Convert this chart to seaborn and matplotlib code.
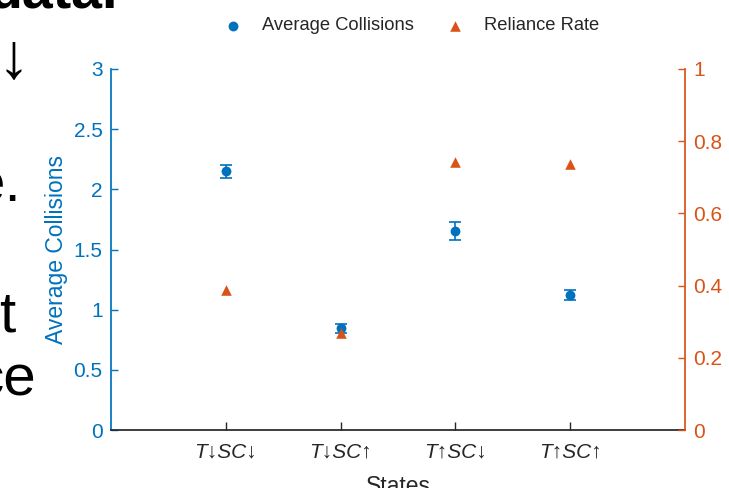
import numpy as np
import pandas as pd
import seaborn as sns
import matplotlib.pyplot as plt

# values
states = ['T↓SC↓', 'T↓SC↑', 'T↑SC↓', 'T↑SC↑']
avg_collisions = [2.15, 0.845, 1.655, 1.12]
collision_err = [0.055, 0.04, 0.075, 0.04]
reliance_rate = [0.388, 0.268, 0.743, 0.737]

blue = '#0072BD'
orange = '#D95319'
dark = '#262626'

sns.set_theme(style="white")
plt.rcParams['font.family'] = ['Liberation Sans', 'DejaVu Sans']

df = pd.DataFrame({
    'pos': np.arange(1, len(states) + 1),
    'State': states,
    'Average Collisions': avg_collisions,
    'err': collision_err,
    'Reliance Rate': reliance_rate,
})

fig = plt.figure(figsize=(7.29, 4.88), dpi=100)
ax = fig.add_axes([111 / 729, 58 / 488, 574 / 729, 361 / 488])
ax2 = ax.twinx()

# error bars then the mean markers
ax.errorbar(df['pos'], df['Average Collisions'], yerr=df['err'], fmt='none',
            ecolor=blue, elinewidth=1.2, capsize=4, capthick=1.2, zorder=2)
sns.scatterplot(data=df, x='pos', y='Average Collisions', ax=ax, color=blue,
                marker='o', s=50, edgecolor=blue, linewidth=0, zorder=3,
                label='Average Collisions', legend=False)
sns.scatterplot(data=df, x='pos', y='Reliance Rate', ax=ax2, color=orange,
                marker='^', s=58, edgecolor=orange, linewidth=0, zorder=3,
                label='Reliance Rate', legend=False)

ax.set_xlim(0, 5)
ax.set_ylim(0, 3)
ax2.set_ylim(0, 1)
ax.set_xticks(df['pos'])
ax.set_xticklabels(states, fontstyle='italic')
ax.set_yticks(np.arange(0, 3.01, 0.5))
ax.set_yticklabels(['0', '0.5', '1', '1.5', '2', '2.5', '3'])
ax2.set_yticks(np.arange(0, 1.01, 0.2))
ax2.set_yticklabels(['0', '0.2', '0.4', '0.6', '0.8', '1'])

ax.set_xlabel('States', fontsize=16.5, color=dark, labelpad=10)
ax.set_ylabel('Average Collisions', fontsize=16.5, color=blue, labelpad=4)

for a in (ax, ax2):
    a.spines['top'].set_visible(False)
    a.grid(False)
ax.spines['left'].set_color(blue)
ax.spines['right'].set_visible(False)
ax.spines['bottom'].set_color(dark)
ax2.spines['left'].set_visible(False)
ax2.spines['bottom'].set_visible(False)
ax2.spines['right'].set_color(orange)

ax.tick_params(axis='y', direction='in', length=5, width=1, colors=blue,
               labelsize=15, pad=6, left=True)
ax.tick_params(axis='x', direction='in', length=6, width=1, colors=dark,
               labelsize=15, pad=9, bottom=True)
ax2.tick_params(axis='y', direction='in', length=5, width=1, colors=orange,
                labelsize=15, pad=6, right=True)
ax2.set_ylabel('')

h1, l1 = ax.get_legend_handles_labels()
h2, l2 = ax2.get_legend_handles_labels()
fig.legend(h1 + h2, l1 + l2, loc='center', bbox_to_anchor=(407 / 729, 1 - 26 / 488),
           ncol=2, frameon=False, fontsize=13.2, handletextpad=0.6, columnspacing=1.25)

# fragments of slide text visible at the left edge
fig.text(118 / 729, 1 - 7 / 488, 'data.', fontsize=40, fontweight='bold',
         ha='right', va='baseline', color='black')
fig.text(14 / 729, 1 - 60 / 488, '↓', fontsize=46, ha='center', va='center', color='black')
fig.text(21 / 729, 1 - 201 / 488, 'e.', fontsize=42, ha='right', va='baseline', color='black')
fig.text(15 / 729, 1 - 332 / 488, 't', fontsize=42, ha='right', va='baseline', color='black')
fig.text(36 / 729, 1 - 395 / 488, 'ce', fontsize=42, ha='right', va='baseline', color='black')

fig.savefig('out.png', dpi=100)
